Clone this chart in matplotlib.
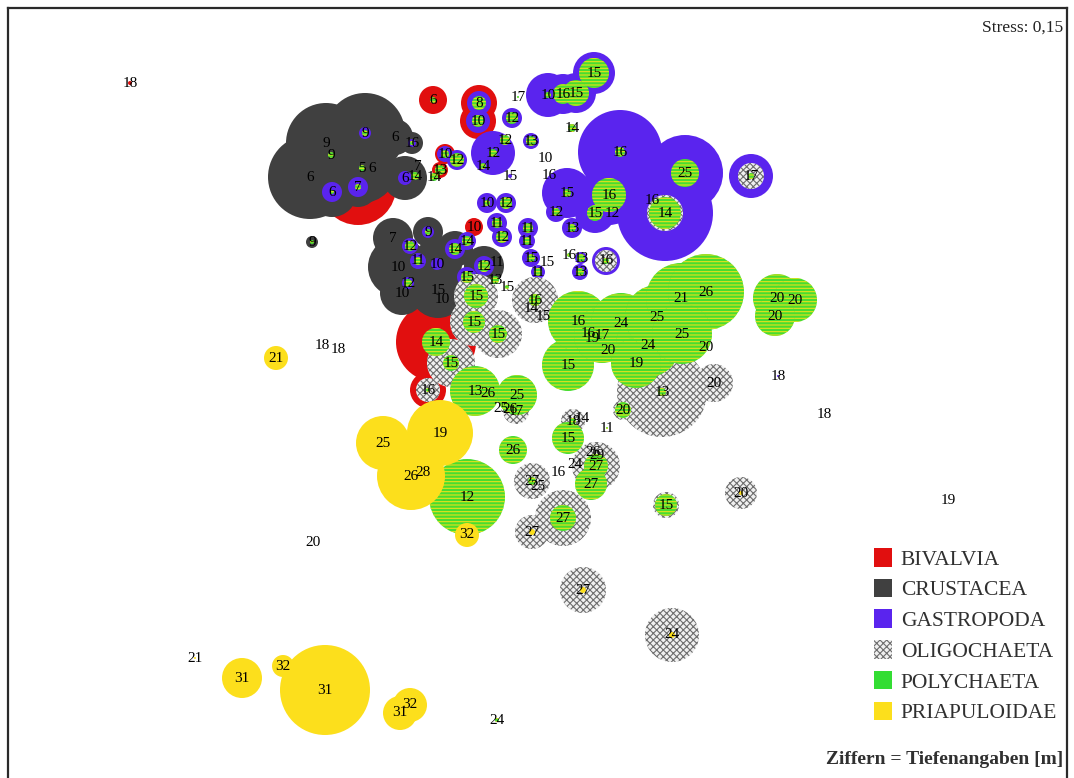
import matplotlib
matplotlib.use("Agg")
import matplotlib.pyplot as plt
from matplotlib.patches import Circle, Patch

plt.rcParams['font.family'] = ['Liberation Serif', 'DejaVu Serif']
plt.rcParams['hatch.linewidth'] = 0.8

# ---- station data: MDS coordinates (dim1, dim2) and depth labels [m] ----
depth = ["18","9","9","9","6","5","6","6","7","6",
         "16","6","14","7","9","6","8","10","17","12",
         "12","12","14","15","13","10","10","12","13","14",
         "10","12","11","12","10","11","11","15","15","11",
         "16","13","13","16","10","16","15","15","14","16",
         "25","16","14","16","15","12","15","12","13","16",
         "17","7","9","12","11","10","10","12","10","15",
         "10","14","14","12","11","13","15","15","15","15",
         "15","14","15","16","16","14","15","15","16","16",
         "19","17","20","24","24","19","25","21","26","25",
         "20","13","20","20","20","20","20","18","18","19",
         "20","15","13","26","25","25","26","17","18","14",
         "11","15","26","26","29","27","24","16","27","27",
         "25","27","27","27","24","21","25","19","26","28",
         "12","32","18","18","20","21","31","32","31","31",
         "32","24"]
dim1 = [130,365,326,331,310,362,372,332,358,395,
        412,405,415,418,312,433,479,478,518,512,
        505,493,483,510,531,545,445,457,440,434,
        487,506,497,502,474,528,527,531,547,538,
        569,581,580,606,548,563,576,594,572,620,
        685,652,665,609,595,612,567,556,572,549,
        751,393,428,410,418,437,398,408,402,438,
        442,455,467,484,497,495,507,467,476,474,
        498,436,451,428,535,531,543,568,578,588,
        592,602,608,621,648,636,657,681,706,682,
        706,662,714,623,777,795,775,778,824,948,
        741,666,475,488,517,501,510,516,573,582,
        607,568,513,593,597,596,575,558,591,532,
        538,563,532,583,672,276,383,440,411,423,
        467,467,322,338,313,195,242,283,325,400,
        410,497]
dim2 = [83,133,143,155,177,168,168,192,187,137,
        143,178,176,166,242,100,103,121,97,118,
        140,153,166,176,141,158,154,160,170,177,
        203,203,223,237,227,228,241,258,262,272,
        255,258,272,261,95,94,93,73,128,152,
        173,200,213,195,213,213,193,212,228,175,
        176,238,232,246,261,264,267,283,293,290,
        299,249,241,266,262,280,287,277,296,322,
        334,342,363,390,300,308,316,365,321,333,
        338,335,350,323,345,363,317,298,292,334,
        347,392,383,410,298,300,316,376,414,500,
        493,505,391,393,395,408,409,411,421,418,
        428,438,450,452,455,466,464,472,484,481,
        486,518,532,590,635,358,443,433,476,472,
        497,535,345,349,543,658,678,666,690,713,
        705,720]

# ---- abundance per taxon as bubble radius: (station number, radius) ----
bivalvia = [(1,2),(9,38),(16,14),(17,18),(18,18),(27,10),(29,8),(35,9),(82,40),(84,18)]
crustacea = [(2,40),(3,40),(5,42),(6,35),(8,25),(9,20),(10,18),(11,11),(12,22),(15,6),
             (62,20),(63,15),(66,25),(67,30),(69,22),(70,28),(72,18),(74,20)]
gastropoda = [(2,6),(8,10),(9,10),(11,4),(12,7),(17,12),(18,12),(20,10),(22,22),(24,2),
              (25,8),(27,8),(28,10),(31,10),(32,10),(33,10),(34,10),(36,10),(37,8),(38,9),
              (40,7),(42,6),(43,8),(44,14),(45,22),(46,20),(47,20),(48,21),(49,4),(50,42),
              (51,38),(52,30),(53,48),(54,30),(55,20),(57,25),(58,10),(59,10),(61,22),(63,6),
              (64,8),(65,8),(66,6),(68,6),(72,10),(73,9),(74,10),(78,10),(79,15),(108,1)]
oligochaeta = [(44,11),(53,18),(61,13),(79,22),(80,24),(81,24),(83,24),(84,12),(85,23),(102,45),
               (103,19),(104,10),(111,16),(112,13),(118,13),(119,12),(126,24),(130,18),(132,28),
               (133,17),(134,23),(135,27),(152,2)]
polychaeta = [(2,3),(4,3),(6,3),(8,2),(9,3),(11,2),(13,4),(15,2),(16,3),(17,7),(18,6),(19,1),
              (20,6),(21,5),(22,4),(23,3),(25,5),(27,4),(28,7),(29,5),(30,4),(31,3),(32,6),
              (33,5),(34,6),(36,5),(37,4),(38,4),(40,4),(41,2),(42,4),(43,4),(44,3),(45,3),
              (46,10),(47,13),(48,15),(49,4),(50,5),(51,14),(53,16),(54,17),(55,8),(57,4),
              (58,4),(59,4),(61,3),(63,3),(64,5),(65,4),(68,4),(72,6),(73,5),(74,6),(76,4),
              (77,2),(78,6),(79,12),(80,11),(81,9),(82,14),(83,8),(84,2),(85,6),(88,26),
              (89,30),(92,28),(94,30),(95,32),(96,25),(97,32),(98,35),(99,38),(100,30),
              (102,4),(104,8),(105,24),(106,22),(107,20),(112,11),(113,25),(115,20),(119,3),
              (121,1),(122,16),(123,14),(126,12),(129,16),(130,4),(132,13),(141,38),(152,2)]
priapuloidae = [(111,2),(133,3),(134,3),(135,3),(136,12),(137,27),(138,33),(139,34),(142,12),
                (146,1),(147,20),(148,11),(149,45),(150,17),(151,17)]

taxa_names = ["BIVALVIA", "CRUSTACEA", "GASTROPODA", "OLIGOCHAETA", "POLYCHAETA", "PRIAPULOIDAE"]
taxa_data = [bivalvia, crustacea, gastropoda, oligochaeta, polychaeta, priapuloidae]

# styles: (facecolor, hatch, hatchcolor)
styles = [
    ("#e10f0f", None, None),
    ("#404040", None, None),
    ("#5a24ee", None, None),
    ("#f0f0f0", "xxxxx", "#6e6e6e"),
    ("#48dc30", "-----", "#e6e21c"),
    ("#fcdf1c", None, None),
]
legend_face = ["#e10f0f", "#404040", "#5a24ee", "#f0f0f0", "#33dd33", "#fcdf1c"]

W, H = 1074, 778
fig = plt.figure(figsize=(W / 100, H / 100), dpi=100)
ax = fig.add_axes([8 / W, -20 / H, 1059 / W, 790 / H])
ax.set_xlim(8, 1067)
ax.set_ylim(798, 8)
ax.set_xticks([])
ax.set_yticks([])
for sp in ax.spines.values():
    sp.set_color("#2a2a2a")
    sp.set_linewidth(1.6)

for layer, (data, (fc, hatch, hc)) in enumerate(zip(taxa_data, styles)):
    for st, r in data:
        i = st - 1
        kw = dict(facecolor=fc, linewidth=0, zorder=2 + layer)
        if hatch:
            kw.update(hatch=hatch, edgecolor=hc)
        else:
            kw.update(edgecolor=fc)
        ax.add_patch(Circle((dim1[i], dim2[i]), r, **kw))

for x, y, lab in zip(dim1, dim2, depth):
    ax.text(x, y, lab, ha="center", va="center", fontsize=11, color="black", zorder=20)

handles = []
for name, fc, (_, hatch, hc) in zip(taxa_names, legend_face, styles):
    if hatch == "xxxxx":
        handles.append(Patch(facecolor=fc, edgecolor=hc, hatch=hatch, linewidth=0, label=name))
    else:
        handles.append(Patch(facecolor=fc, edgecolor=fc, linewidth=0, label=name))
leg = fig.legend(handles=handles, loc="upper left", bbox_to_anchor=(874 / W, 1 - 548 / H),
                 frameon=False, prop={"family": "Liberation Serif", "size": 15.5},
                 handlelength=0.85, handleheight=0.95, handletextpad=0.4,
                 labelspacing=0.42, borderpad=0, borderaxespad=0)
for t in leg.get_texts():
    t.set_color("#303030")

fig.text(1063 / W, 1 - 28 / H, "Stress: 0,15", ha="right", va="center", fontsize=12.5, color="#222222")
fig.text(1063 / W, 1 - 760 / H, "Ziffern = Tiefenangaben [m]", ha="right", va="center",
         fontsize=14, fontweight="bold", color="#303030")

fig.savefig("out.png", dpi=100)
